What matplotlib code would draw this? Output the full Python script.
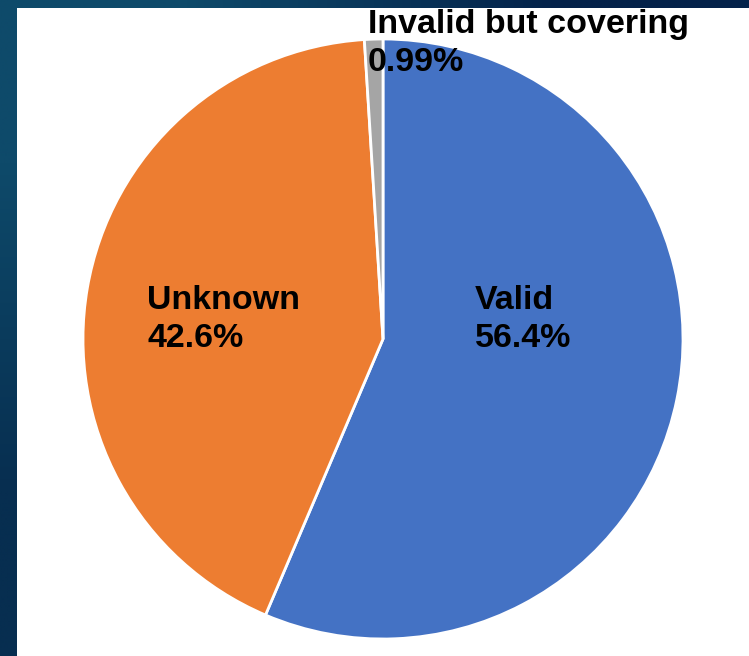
import numpy as np
import matplotlib.pyplot as plt

# slice data (percent of total)
categories = ["Valid", "Unknown", "Invalid but covering"]
shares = [56.4, 42.6, 0.99]
share_labels = ["56.4%", "42.6%", "0.99%"]
colors = ["#4472C4", "#ED7D31", "#A5A5A5"]

W, H = 749, 656
fig = plt.figure(figsize=(W / 100, H / 100), dpi=100)

# dark blue gradient background
bg = fig.add_axes([0, 0, 1, 1])
grad = np.array([[[14, 74, 106], [4, 34, 74]],
                 [[7, 46, 80], [3, 28, 62]]]) / 255.0
bg.imshow(grad, extent=[0, 1, 0, 1], aspect="auto", interpolation="bilinear")
bg.set_xlim(0, 1)
bg.set_ylim(0, 1)
bg.axis("off")

# white panel
panel = fig.add_axes([17 / W, 0, 1 - 17 / W, 1 - 8 / H])
panel.set_facecolor("white")
panel.set_xticks([])
panel.set_yticks([])
for s in panel.spines.values():
    s.set_visible(False)

# pie, centre ~ (383, 339) px, radius 300 px
cx, cy, r = 383, 339, 300
ax = fig.add_axes([(cx - r) / W, 1 - (cy + r) / H, 2 * r / W, 2 * r / H])
ax.pie(shares, colors=colors, startangle=90, counterclock=False, radius=1,
       wedgeprops=dict(edgecolor="white", linewidth=2))
ax.set_xlim(-1, 1)
ax.set_ylim(-1, 1)
ax.set_aspect("equal")
ax.axis("off")

font = dict(family="Liberation Sans", weight="bold", size=24.5, color="black",
            va="top", ha="left", linespacing=1.3)
label_px = [(475, 285), (147, 285), (368, 9)]
for name, lab, (px, py) in zip(categories, share_labels, label_px):
    fig.text(px / W, 1 - py / H, name + "\n" + lab, **font)

fig.savefig("out.png", dpi=100)
